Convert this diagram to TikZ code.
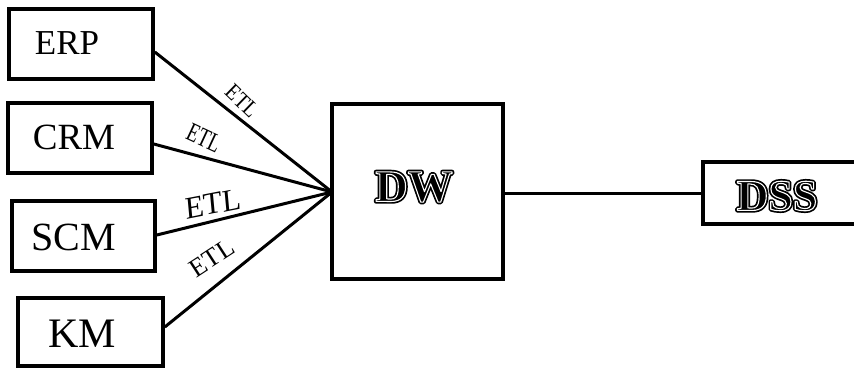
\documentclass[tikz,border=0pt]{standalone}
\usepackage{fontspec}
\setmainfont{Liberation Serif}
\usetikzlibrary{calc}

% inline (engraved) lettering: a fattened black glyph with a thin white
% line
\newcommand\engraved[1]{\leavevmode
  \rlap{\special{pdf:literal direct 2 Tr 4.5 w 1 j}#1\special{pdf:literal direct 0 Tr}}%
  {\special{pdf:literal direct 1 Tr 1.1 w 1 j}\textcolor{white}{#1}\special{pdf:literal direct 0 Tr}}}

\tikzset{
  box/.style={draw, line width=3.6pt, inner sep=0pt},
  link/.style={line width=3pt},
  etl/.style={inner sep=0pt},
}

\begin{document}
\begin{tikzpicture}[x=1pt, y=-1pt]
\useasboundingbox (0,0) rectangle (854,367);

% source systems
\node[box, minimum width=144, minimum height=70] (erp) at (81,44) {};
\node[font=\fontsize{35}{35}\selectfont] (erpt) at (67,43) {ERP};
\node[box, minimum width=144, minimum height=70] (crm) at (80,138) {};
\node[font=\fontsize{37}{37}\selectfont] (crmt) at (74,137) {CRM};
\node[box, minimum width=143, minimum height=70] (scm) at (83.5,236) {};
\node[font=\fontsize{40}{40}\selectfont] (scmt) at (74,237) {SCM};
\node[box, minimum width=145, minimum height=68] (km) at (90.5,332) {};
\node[font=\fontsize{42}{42}\selectfont] (kmt) at (82,334) {KM};

% warehouse and decision support
\node[box, minimum width=171, minimum height=175] (dw) at (417.5,191.5) {};
\node[font=\fontsize{45}{45}\selectfont\bfseries] (dwt) at (414,187) {\engraved{DW}};
\node[box, minimum width=170, minimum height=62] (dss) at (788,193) {};
\node[font=\fontsize{44}{44}\selectfont\bfseries] (dsst) at (777,196) {\engraved{DSS}};

% convergence point on the warehouse's left side
\coordinate (in) at (332,192);
\coordinate (lvl) at (0,193);

\draw[link] ([yshift=-8]erp.east) -- (in);
\draw[link] ([yshift=-6]crm.east) -- (in);
\draw[link] ([yshift=1]scm.east) -- (in);
\draw[link] ([yshift=5]km.east) -- (in);
\draw[link] (dw.east |- lvl) -- (dss.west |- lvl);

% ETL labels
\node[etl, rotate=-44, yscale=1.15, font=\fontsize{20}{20}\selectfont] (l1) at (242,101) {ETL};
\node[etl, rotate=-25, yscale=1.4, font=\fontsize{19}{19}\selectfont] (l2) at (204,138) {ETL};
\node[etl, rotate=11, xslant=0.1, font=\fontsize{31}{31}\selectfont] (l3) at (213,204) {ETL};
\node[etl, rotate=33, font=\fontsize{26}{26}\selectfont] (l4) at (212,258) {ETL};
\end{tikzpicture}
\end{document}
